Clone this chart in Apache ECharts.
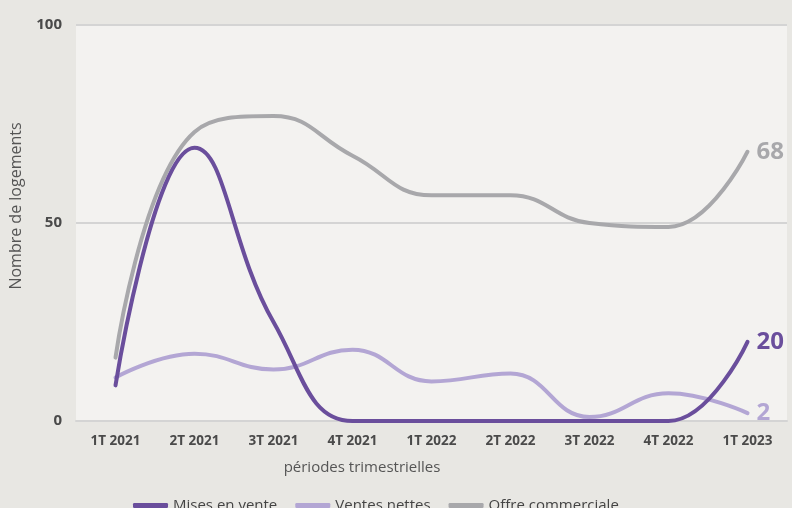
<!DOCTYPE html>
<html><head><meta charset="utf-8">
<script src="https://cdn.jsdelivr.net/npm/echarts@6/dist/echarts.min.js"></script>
<style>html,body{margin:0;padding:0;background:#e8e7e3;}#c{width:792px;height:508px;}</style>
</head><body><div id="c"></div>
<script>
var categories = ['1T 2021','2T 2021','3T 2021','4T 2021','1T 2022','2T 2022','3T 2022','4T 2022','1T 2023'];
var misesEnVente = [9, 69, 25, 0, 0, 0, 0, 0, 20];
var ventesNettes = [11, 17, 13, 18, 10, 12, 1, 7, 2];
var offreCommerciale = [16, 73, 77, 67, 57, 57, 50, 49, 68];
var yTicks = [0, 50, 100];

var FONT = '"Open Sans", "Noto Sans", sans-serif';
var NUMFONT = '"Open Sans", sans-serif';
var chart = echarts.init(document.getElementById('c'), null, {renderer:'canvas'});
function mk(name, data, color, z) {
  return {
    name: name, type: 'line', data: data, smooth: 0.45, symbol: 'none', z: z,
    lineStyle: {color: color, width: 4, cap: 'round'},
    itemStyle: {color: color},
    endLabel: {show: true, formatter: '{c}', color: color, fontFamily: NUMFONT, fontWeight: 'bold', fontSize: 24, distance: 9}
  };
}
chart.setOption({
  backgroundColor: '#e8e7e3',
  animation: false,
  grid: {left: 76, right: 5, top: 25, bottom: 87, show: true, backgroundColor: '#f3f2f0', borderWidth: 0, outerBoundsMode: 'none', containLabel: false},
  legend: {
    top: 493, left: 128, itemWidth: 35, itemHeight: 5, itemGap: 18, icon: 'roundRect',
    textStyle: {fontFamily: FONT, fontSize: 15, color: '#444'},
    data: ['Mises en vente', 'Ventes nettes', 'Offre commerciale']
  },
  graphic: [
    {type: 'text', x: 362, y: 468, style: {text: 'périodes trimestrielles', fontFamily: FONT, fontSize: 15, fill: '#555', align: 'center', verticalAlign: 'middle'}}
  ],
  xAxis: {
    type: 'category', data: categories, boundaryGap: true,
    axisLine: {show: true, lineStyle: {color: '#d4d4d4', width: 2}},
    axisTick: {show: false},
    axisLabel: {fontFamily: FONT, fontWeight: 'bold', fontSize: 13.5, color: '#4a4a4a', margin: 13, interval: 0}
  },
  yAxis: {
    type: 'value', min: 0, max: 100, interval: 50,
    name: 'Nombre de logements', nameLocation: 'middle', nameGap: 52, nameRotate: 90,
    nameTextStyle: {fontFamily: FONT, fontSize: 16, color: '#555', padding: [0, 0, 0, 34]},
    axisLine: {show: false}, axisTick: {show: false},
    axisLabel: {fontFamily: FONT, fontWeight: 'bold', fontSize: 15, color: '#4a4a4a', margin: 14,
      formatter: function(v){ return yTicks.indexOf(v) >= 0 ? String(v) : ''; }},
    splitLine: {lineStyle: {color: '#d4d4d4', width: 2}}
  },
  series: [
    mk('Offre commerciale', offreCommerciale, '#a8a8ab', 2),
    mk('Ventes nettes', ventesNettes, '#b3a6d4', 3),
    mk('Mises en vente', misesEnVente, '#6a4e9c', 4)
  ]
});
</script></body></html>
